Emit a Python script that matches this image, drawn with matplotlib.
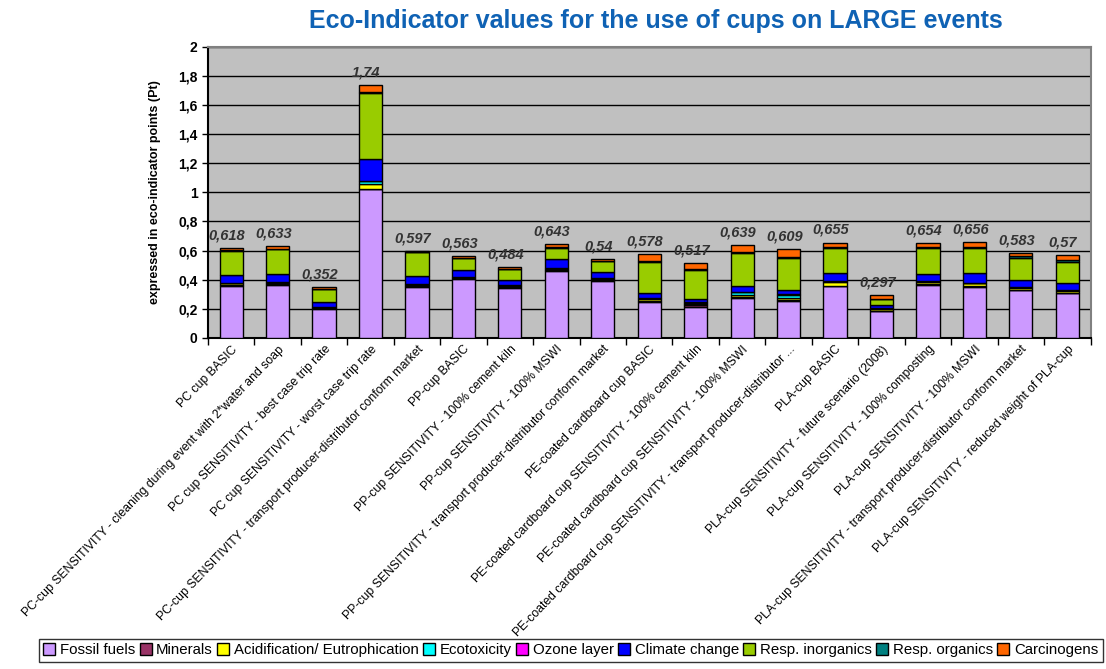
import matplotlib
matplotlib.use("Agg")
import matplotlib.pyplot as plt
import matplotlib.patches as mpatches
import numpy as np

plt.rcParams['font.family'] = ['Liberation Sans', 'DejaVu Sans']

scenarios = [
    "PC cup BASIC",
    "PC-cup SENSITIVITY - cleaning during event with 2*water and soap",
    "PC cup SENSITIVITY - best case trip rate",
    "PC cup SENSITIVITY - worst case trip rate",
    "PC-cup SENSITIVITY - transport producer-distributor conform market",
    "PP-cup BASIC",
    "PP-cup SENSITIVITY - 100% cement kiln",
    "PP-cup SENSITIVITY - 100% MSWI",
    "PP-cup SENSITIVITY - transport producer-distributor conform market",
    "PE-coated cardboard cup BASIC",
    "PE-coated cardboard cup SENSITIVITY - 100% cement kiln",
    "PE-coated cardboard cup SENSITIVITY - 100% MSWI",
    "PE-coated cardboard cup SENSITIVITY - transport producer-distributor ...",
    "PLA-cup BASIC",
    "PLA-cup SENSITIVITY - future scenario (2008)",
    "PLA-cup SENSITIVITY - 100% composting",
    "PLA-cup SENSITIVITY - 100% MSWI",
    "PLA-cup SENSITIVITY - transport producer-distributor conform market",
    "PLA-cup SENSITIVITY - reduced weight of PLA-cup",
]

totals = [0.618, 0.633, 0.352, 1.74, 0.597, 0.563, 0.484, 0.643, 0.54, 0.578,
          0.517, 0.639, 0.609, 0.655, 0.297, 0.654, 0.656, 0.583, 0.57]

fossil_fuels = [0.355, 0.362, 0.195, 1.02, 0.351, 0.402, 0.344, 0.46, 0.392, 0.244,
                0.209, 0.277, 0.256, 0.353, 0.183, 0.362, 0.351, 0.328, 0.307]
minerals = [0.008, 0.006, 0.01, 0.004, 0.008, 0.008, 0.008, 0.008, 0.008, 0.012,
            0.015, 0.006, 0.006, 0.006, 0.004, 0.006, 0.006, 0.004, 0.004]
acidification = [0.012, 0.012, 0.005, 0.033, 0.005, 0.006, 0.006, 0.006, 0.006, 0.008,
                 0.006, 0.012, 0.012, 0.024, 0.01, 0.014, 0.017, 0.01, 0.01]
ecotoxicity = [0.004, 0.004, 0.003, 0.018, 0.003, 0.004, 0.004, 0.006, 0.005, 0.01,
               0.012, 0.018, 0.022, 0.006, 0.004, 0.01, 0.004, 0.006, 0.006]
ozone_layer = [0.0, 0.0, 0.0, 0.002, 0.0, 0.0, 0.0, 0.0, 0.0, 0.002,
               0.002, 0.003, 0.003, 0.002, 0.001, 0.002, 0.002, 0.002, 0.002]
climate_change = [0.055, 0.055, 0.03, 0.153, 0.06, 0.045, 0.033, 0.06, 0.042, 0.03,
                  0.02, 0.04, 0.03, 0.055, 0.022, 0.042, 0.065, 0.05, 0.046]
resp_inorganics = [0.165, 0.17, 0.091, 0.455, 0.16, 0.083, 0.077, 0.08, 0.072, 0.215,
                   0.2, 0.225, 0.22, 0.172, 0.04, 0.18, 0.171, 0.15, 0.148]
resp_organics = [0.004, 0.005, 0.004, 0.005, 0.003, 0.004, 0.004, 0.005, 0.005, 0.007,
                 0.008, 0.008, 0.008, 0.006, 0.005, 0.006, 0.006, 0.012, 0.014]
carcinogens = [0.015, 0.019, 0.014, 0.05, 0.007, 0.011, 0.008, 0.018, 0.01, 0.05,
               0.045, 0.05, 0.052, 0.031, 0.028, 0.032, 0.034, 0.021, 0.033]

categories = ["Fossil fuels", "Minerals", "Acidification/ Eutrophication", "Ecotoxicity",
              "Ozone layer", "Climate change", "Resp. inorganics", "Resp. organics",
              "Carcinogens"]
series = [fossil_fuels, minerals, acidification, ecotoxicity, ozone_layer,
          climate_change, resp_inorganics, resp_organics, carcinogens]
colors = ["#CC99FF", "#993366", "#FFFF00", "#00FFFF", "#FF00FF", "#0000FF",
          "#99CC00", "#008080", "#FF6600"]

fig = plt.figure(figsize=(11.06, 6.69), dpi=100)
ax = fig.add_axes([0.188, 0.495, 0.798, 0.435])
ax.set_facecolor("#C0C0C0")

x = np.arange(len(scenarios))
bottom = np.zeros(len(scenarios))
for vals, col in zip(series, colors):
    ax.bar(x, vals, 0.5, bottom=bottom, color=col, edgecolor="black", linewidth=1.0, zorder=3)
    bottom += np.array(vals)

# totaal boven elke balk
for xi, t in zip(x, totals):
    lbl = ("%g" % t).replace(".", ",")
    ax.annotate(lbl, (xi, t), xytext=(-3, 4), textcoords="offset points",
                ha="center", va="bottom", fontsize=10.5, fontweight="bold",
                fontstyle="italic", color="#333333")

ax.set_xlim(-0.5, len(scenarios) - 0.5)
ax.set_ylim(0, 2)
ax.set_yticks(np.arange(0, 2.01, 0.2))
ax.set_yticklabels([("%g" % v).replace(".", ",") for v in np.arange(0, 2.01, 0.2)],
                   fontsize=10, fontweight="bold")
ax.yaxis.grid(True, color="black", linewidth=1.0, zorder=0)
ax.set_axisbelow(True)

ax.set_xticks(x)
ax.set_xticklabels(scenarios, rotation=46, ha="right", rotation_mode="anchor", fontsize=8.8)
ax.tick_params(axis="x", length=0, pad=4)
ax.set_xticks(np.arange(-0.5, len(scenarios)), minor=True)
ax.tick_params(axis="x", which="minor", length=5, width=1)
ax.tick_params(axis="y", length=4, width=1)

for side in ["top", "right"]:
    ax.spines[side].set_color("#808080")
    ax.spines[side].set_linewidth(1.5)
for side in ["left", "bottom"]:
    ax.spines[side].set_color("black")
    ax.spines[side].set_linewidth(1.5)

ax.set_ylabel("expressed in eco-indicator points (Pt)", fontsize=9, fontweight="bold", labelpad=12)

fig.text(0.593, 0.968, "Eco-Indicator values for the use of cups on LARGE events",
         ha="center", va="center", fontsize=18, fontweight="bold", color="#0F62B4")

handles = [mpatches.Patch(facecolor=c, edgecolor="black", label=l) for c, l in zip(colors, categories)]
leg = fig.legend(handles=handles, loc="lower center", bbox_to_anchor=(0.516, 0.0), ncol=9,
                 fontsize=10.8, handlelength=0.8, handleheight=0.8, handletextpad=0.3,
                 columnspacing=0.3, borderpad=0.3, frameon=True, fancybox=False)
leg.get_frame().set_edgecolor("black")
leg.get_frame().set_linewidth(1.0)

fig.savefig("out.png", dpi=100)
